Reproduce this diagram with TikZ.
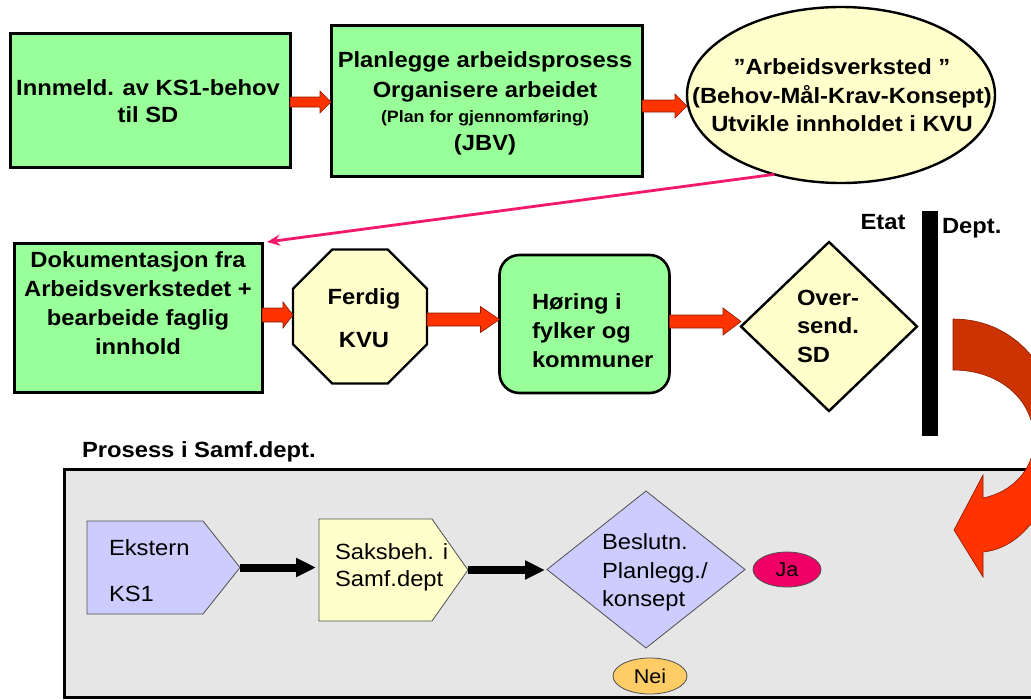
\documentclass[tikz,border=0pt]{standalone}
\usepackage{fontspec}
\setmainfont{Liberation Sans}[FakeStretch=1.08]
\usetikzlibrary{shapes.geometric,shapes.symbols,arrows.meta,calc}

\definecolor{boxgreen}{HTML}{99FF99}
\definecolor{paleyellow}{HTML}{FFFFCC}
\definecolor{lavender}{HTML}{CCCCFF}
\definecolor{panelgrey}{HTML}{E6E6E6}
\definecolor{flowred}{HTML}{FF3300}
\definecolor{flowredline}{HTML}{8A1A00}
\definecolor{backred}{HTML}{CC3300}
\definecolor{linkpink}{HTML}{F2186C}
\definecolor{japink}{HTML}{F00066}
\definecolor{neiorange}{HTML}{FFCC66}
\definecolor{thinline}{HTML}{505050}

\tikzset{
  every node/.style={inner sep=0pt, outer sep=0pt},
  greenbox/.style={rectangle, draw=black, line width=3pt, fill=boxgreen},
  roundgreen/.style={rectangle, rounded corners=20pt, draw=black, line width=2.6pt, fill=boxgreen},
  yellowshape/.style={draw=black, line width=2.4pt, fill=paleyellow},
  flatshape/.style={draw=thinline, line width=0.8pt},
  boldtext/.style={font=\bfseries\fontsize{22}{#1}\selectfont},
  boldtext/.default=27,
  plaintext/.style={font=\fontsize{22}{#1}\selectfont},
  plaintext/.default=27,
  redarrow/.style={fill=flowred, draw=flowredline, line width=0.6pt},
  blackconn/.style={line width=8pt, -{Triangle[length=20pt,width=18pt]}},
  pinkconn/.style={draw=linkpink, line width=2.8pt, -{Stealth[length=13pt,width=11pt]}},
}

% horizontal block arrow between two nodes:
% #1 from, #2 to, #3 centre y, #4 half shaft, #5 half head, #6 head length
\newcommand\blockarrow[6]{%
  \path[redarrow] let \p1=(#1.east), \p2=(#2.west) in
    (\x1,{-(#3-#4)*1pt}) -- ({\x2-#6*1pt},{-(#3-#4)*1pt}) -- ({\x2-#6*1pt},{-(#3-#5)*1pt})
    -- (\x2,{-#3*1pt}) -- ({\x2-#6*1pt},{-(#3+#5)*1pt}) -- ({\x2-#6*1pt},{-(#3+#4)*1pt})
    -- (\x1,{-(#3+#4)*1pt}) -- cycle;}

\begin{document}
\begin{tikzpicture}[x=1pt,y=-1pt]
\useasboundingbox (0,0) rectangle (1031,699);
\clip (0,0) rectangle (1031,699);

% ---- first row ----
\node[greenbox, minimum width=280pt, minimum height=134pt] (inn) at (150,100) {};
\node[boldtext, anchor=north, align=center] (inn-t) at (148,80)
  {Innmeld. av KS1-behov\\til SD};

\node[greenbox, minimum width=311pt, minimum height=151pt] (plan) at (486.5,100.5) {};
\node[boldtext=30, anchor=north, align=center] (plan-t) at (485,52)
  {Planlegge arbeidsprosess\\Organisere arbeidet\\[-5pt]{\fontsize{16.5}{18}\selectfont(Plan for gjennomføring)}\\[-2pt](JBV)};

\node[ellipse, yellowshape, minimum width=308pt, minimum height=176pt] (ell) at (841,95) {};
\node[boldtext=28.5, anchor=north, align=center] (ell-t) at (842,59)
  {”Arbeidsverksted ”\\(Behov-Mål-Krav-Konsept)\\Utvikle innholdet i KVU};

\blockarrow{inn}{plan}{102}{5}{11}{11}
\blockarrow{plan}{ell}{106}{6}{12}{12}

% ---- second row ----
\node[greenbox, minimum width=248pt, minimum height=149pt] (doc) at (138,317.5) {};
\node[boldtext=29, anchor=north, align=center] (doc-t) at (138,252)
  {Dokumentasjon fra\\Arbeidsverkstedet +\\bearbeide faglig\\innhold};

\node[regular polygon, regular polygon sides=8, yellowshape, minimum size=145pt] (oct) at (360,316.5) {};
\node[boldtext=43, anchor=north, align=center] (oct-t) at (364,289) {Ferdig\\KVU};

\node[roundgreen, minimum width=170pt, minimum height=138pt] (hor) at (584.5,324) {};
\node[boldtext=29, anchor=north west, align=left] (hor-t) at (532,294)
  {Høring i\\fylker og\\kommuner};

\node[diamond, yellowshape, minimum width=176pt, minimum height=169pt] (dia) at (829,326.5) {};
\node[boldtext=28.5, anchor=north west, align=left] (dia-t) at (797,290) {Over-\\send.\\SD};

\blockarrow{doc}{oct}{315}{7}{13}{10}
\blockarrow{oct}{hor}{319.5}{6.5}{13}{19}
\blockarrow{hor}{dia}{321.5}{6.5}{13.5}{18}

\draw[pinkconn] (ell.230) -- ($(doc.north east)+(5,-1)$);

% boundary between agency and ministry
\node[rectangle, fill=black, minimum width=16pt, minimum height=225pt] (bar) at (930,323.5) {};
\node[boldtext, anchor=base] (etat) at (883,229) {Etat};
\node[boldtext, anchor=base west] (dept) at (942,233) {Dept.};

% ---- process in the ministry ----
\node[boldtext, anchor=base west] (proc) at (82,457) {Prosess i Samf.dept.};
\node[rectangle, draw=black, line width=3pt, fill=panelgrey, anchor=north west,
      minimum width=985pt, minimum height=228pt] (panel) at (64,469) {};

\node[signal, signal to=east, signal from=nowhere, signal pointer angle=103,
      flatshape, fill=lavender, minimum width=153pt, minimum height=93pt, anchor=west] (ext) at (87,567.5) {};
\node[plaintext=46, anchor=north west, align=left] (ext-t) at (109,540) {Ekstern\\KS1};

\node[signal, signal to=east, signal from=nowhere, signal pointer angle=109.5,
      flatshape, fill=paleyellow, minimum width=149pt, minimum height=102pt, anchor=west] (sak) at (319,570) {};
\node[plaintext=27, anchor=north west, align=left] (sak-t) at (335,544) {Saksbeh. i\\Samf.dept};

\node[diamond, flatshape, fill=lavender, minimum width=198pt, minimum height=157pt] (bes) at (646,569.5) {};
\node[plaintext=28.5, anchor=north west, align=left] (bes-t) at (602,534) {Beslutn.\\Planlegg./\\konsept};

\node[ellipse, flatshape, fill=japink, minimum width=68pt, minimum height=35pt,
      font=\fontsize{20}{24}\selectfont] (ja) at (787,569.5) {Ja};
\node[ellipse, flatshape, fill=neiorange, minimum width=74pt, minimum height=36pt,
      font=\fontsize{20}{24}\selectfont] (nei) at (650,676) {Nei};

\draw[blackconn, shorten >=3pt] (ext.east) -- (ext.east -| sak.west);
\draw[blackconn, shorten >=2pt] (sak.east) -- (sak.east -| bes.west);

% ---- curved hand-over arrow ----
\path[save path=\turnarrow]
  (953,319) .. controls (1015,319) and (1058,370) .. (1058,435)
  .. controls (1058,500) and (1025,548) .. (983,552)
  -- (983,577) -- (954,530) -- (983,475) -- (983,498)
  .. controls (1012,492) and (1034,470) .. (1034,440)
  .. controls (1034,400) and (1000,370) .. (953,370) -- cycle;
\begin{scope}
  \clip (900,250) rectangle (1100,451);
  \fill[backred, use path=\turnarrow];
\end{scope}
\begin{scope}
  \clip (900,451) rectangle (1100,700);
  \fill[flowred, use path=\turnarrow];
\end{scope}
\draw[flowredline, line width=0.6pt, use path=\turnarrow];
\end{tikzpicture}
\end{document}
